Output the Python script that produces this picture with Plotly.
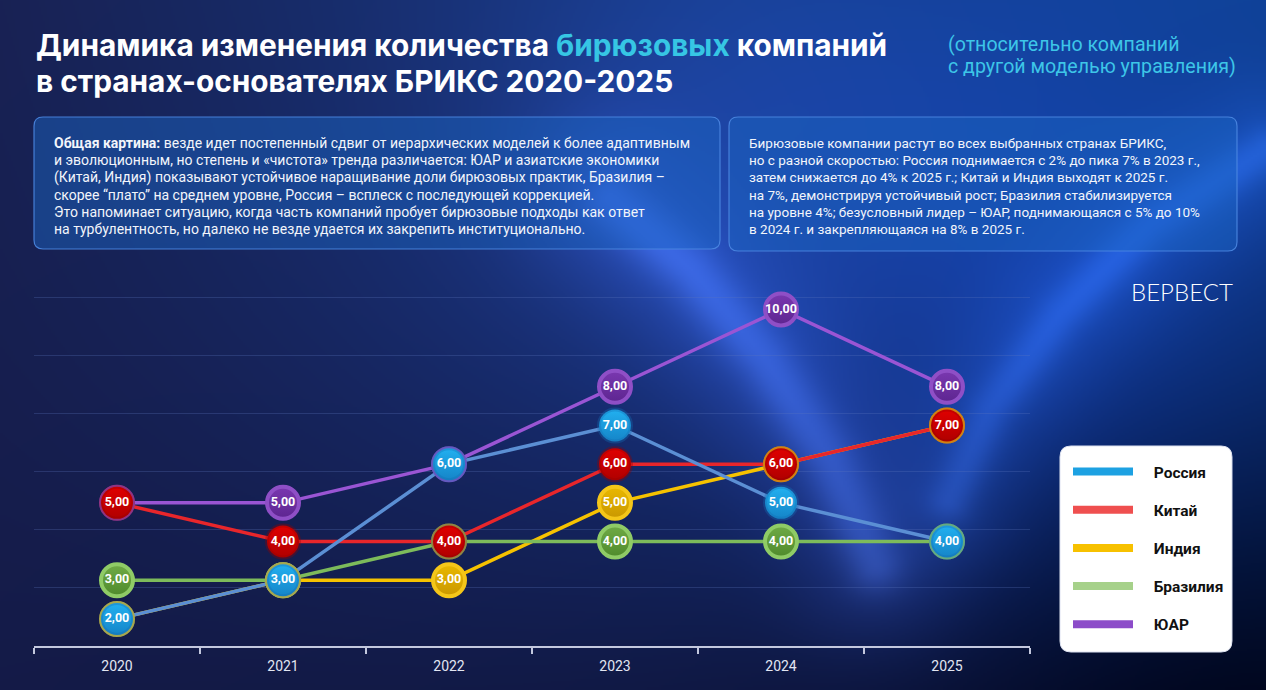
import base64, struct, zlib
import numpy as np
import plotly.graph_objects as go

# ---------------- data ----------------
years = ["2020", "2021", "2022", "2023", "2024", "2025"]
series_names = ["Россия", "Китай", "Индия", "Бразилия", "ЮАР"]
russia = [2, 3, 6, 7, 5, 4]
china = [5, 4, 4, 6, 6, 7]
india = [2, 3, 3, 5, 6, 7]
brazil = [3, 3, 4, 4, 4, 4]
sar = [5, 5, 6, 8, 10, 8]

title_line1 = "Динамика изменения количества <span style='color:#36c6e4'>бирюзовых</span> компаний"
title_line2 = "в странах-основателях БРИКС 2020-2025"
subtitle1 = "(относительно компаний"
subtitle2 = "с другой моделью управления)"
box1_lines = ["<b>Общая картина:</b> везде идет постепенный сдвиг от иерархических моделей к более адаптивным",
              "и эволюционным, но степень и «чистота» тренда различается: ЮАР и азиатские экономики",
              "(Китай, Индия) показывают устойчивое наращивание доли бирюзовых практик, Бразилия –",
              "скорее “плато” на среднем уровне, Россия – всплеск с последующей коррекцией.",
              "Это напоминает ситуацию, когда часть компаний пробует бирюзовые подходы как ответ",
              "на турбулентность, но далеко не везде удается их закрепить институционально."]
box2_lines = ["Бирюзовые компании растут во всех выбранных странах БРИКС,",
              "но с разной скоростью: Россия поднимается с 2% до пика 7% в 2023 г.,",
              "затем снижается до 4% к 2025 г.; Китай и Индия выходят к 2025 г.",
              "на 7%, демонстрируя устойчивый рост; Бразилия стабилизируется",
              "на уровне 4%; безусловный лидер – ЮАР, поднимающаяся с 5% до 10%",
              "в 2024 г. и закрепляющаяся на 8% в 2025 г."]
logo_text = "ВЕРВЕСТ"

W, H = 1266, 690

# ---------------- background image ----------------
def make_bg():
    w, h = 633, 345
    xs = (np.arange(w) + 0.5) * (W / w)
    ys = (np.arange(h) + 0.5) * (H / h)
    X, Y = np.meshgrid(xs, ys)
    u = X / W
    v = Y / H
    TL = np.array([24, 33, 82.0]); TR = np.array([14, 60, 135.0])
    BL = np.array([20, 26, 70.0]); BR = np.array([8, 14, 42.0])
    img = ((1 - u)[..., None] * (1 - v)[..., None] * TL + u[..., None] * (1 - v)[..., None] * TR +
           (1 - u)[..., None] * v[..., None] * BL + u[..., None] * v[..., None] * BR)

    def blob(cx, cy, s, col):
        g = np.exp(-((X - cx) ** 2 + (Y - cy) ** 2) / (2 * s * s))
        return g[..., None] * np.array(col, float)

    def beam(pts, s, col):
        d = np.full(X.shape, 1e9)
        for (x0, y0), (x1, y1) in zip(pts[:-1], pts[1:]):
            dx, dy = x1 - x0, y1 - y0
            t = np.clip(((X - x0) * dx + (Y - y0) * dy) / (dx * dx + dy * dy), 0, 1)
            px, py = x0 + t * dx, y0 + t * dy
            d = np.minimum(d, np.hypot(X - px, Y - py))
        g = np.exp(-(d ** 2) / (2 * s * s))
        return g[..., None] * np.array(col, float)

    img += blob(1050, 280, 220, (4, 18, 55))
    img += blob(620, 300, 320, (5, 10, 25))
    img += blob(700, 130, 160, (6, 12, 26))
    a = [(610, 200), (690, 270), (765, 360), (830, 460), (875, 565)]
    img += beam(a, 60, (12, 17, 36))
    img += beam(a, 20, (20, 27, 45))
    b = [(1266, 150), (1150, 225), (1060, 315), (990, 410), (950, 500)]
    img += beam(b, 50, (8, 16, 32))
    img += beam(b, 16, (12, 20, 35))
    img += blob(1180, 650, 200, (-8, -10, -20))
    arr = np.clip(img, 0, 255).astype(np.uint8)
    raw = b"".join(b"\x00" + arr[i].tobytes() for i in range(h))

    def chunk(t, d):
        return struct.pack(">I", len(d)) + t + d + struct.pack(">I", zlib.crc32(t + d) & 0xffffffff)

    png = (b"\x89PNG\r\n\x1a\n" + chunk(b"IHDR", struct.pack(">IIBBBBB", w, h, 8, 2, 0, 0, 0)) +
           chunk(b"IDAT", zlib.compress(raw, 9)) + chunk(b"IEND", b""))
    return "data:image/png;base64," + base64.b64encode(png).decode()


def P(x, y):
    return f"{x / W:.5f},{1 - y / H:.5f}"


def rrect(x0, y0, x1, y1, r):
    return (f"M {P(x0 + r, y0)} L {P(x1 - r, y0)} Q {P(x1, y0)} {P(x1, y0 + r)} "
            f"L {P(x1, y1 - r)} Q {P(x1, y1)} {P(x1 - r, y1)} L {P(x0 + r, y1)} "
            f"Q {P(x0, y1)} {P(x0, y1 - r)} L {P(x0, y0 + r)} Q {P(x0, y0)} {P(x0 + r, y0)} Z")


fig = go.Figure()

line_cols = {"Россия": "#5b8fd4", "Китай": "#e8262b", "Индия": "#f6c200", "Бразилия": "#7dbb5b", "ЮАР": "#9a55d4"}
legend_cols = {"Россия": "#1da1e2", "Китай": "#ef4f4f", "Индия": "#f7c100", "Бразилия": "#a6d18a", "ЮАР": "#8c4cc9"}
data = {"Россия": russia, "Китай": china, "Индия": india, "Бразилия": brazil, "ЮАР": sar}

for name in ["Индия", "Бразилия", "Китай", "ЮАР", "Россия"]:
    fig.add_trace(go.Scatter(x=years, y=data[name], mode="lines", showlegend=False, hoverinfo="skip",
                             line=dict(color=line_cols[name], width=3.5)))

mk = {
    "Бразилия": ("#6faa45", "#4f8a2c", "#8fcb66"),
    "Индия": ("#e9b800", "#c99700", "#f4c619"),
    "ЮАР": ("#7a38b0", "#5d2590", "#8f4fc6"),
    "Китай": ("#e00000", "#b00000", "rgba(150,0,0,0.35)"),
    "Россия": ("#22b0f0", "#1585c8", "rgba(20,110,180,0.35)"),
}
for name in ["Бразилия", "Индия", "ЮАР", "Китай", "Россия"]:
    fill, grad, border = mk[name]
    fig.add_trace(go.Scatter(
        x=years, y=data[name], mode="markers+text", showlegend=False, cliponaxis=False,
        marker=dict(size=32, color=fill, gradient=dict(type="vertical", color=grad),
                    line=dict(color=border, width=4)),
        texttemplate="%{y:.2f}", textposition="middle center",
        textfont=dict(family="Roboto", size=12.5, color="white", weight="bold"),
        hoverinfo="skip"))

for name in series_names:
    fig.add_trace(go.Scatter(x=[None], y=[None], mode="lines", name="\u2002\u2002" + name, legendgroup=name,
                             line=dict(color=legend_cols[name], width=8)))

shapes = [
    dict(type="path", path=rrect(34, 117, 720, 249, 9), xref="paper", yref="paper", layer="below",
         fillcolor="rgba(28,100,195,0.48)", line=dict(color="rgba(75,135,225,0.9)", width=1.2)),
    dict(type="path", path=rrect(729, 117, 1237, 251, 9), xref="paper", yref="paper", layer="below",
         fillcolor="rgba(28,100,195,0.48)", line=dict(color="rgba(75,135,225,0.9)", width=1.2)),
    dict(type="path", path=rrect(1060, 446, 1232, 652, 11), xref="paper", yref="paper", layer="below",
         fillcolor="white", line=dict(color="rgba(220,225,240,1)", width=1)),
]

annotations = [
    dict(text="<b>" + title_line1 + "</b>", x=34 / W, y=1 - 45 / H, xanchor="left", yanchor="middle",
         showarrow=False, xref="paper", yref="paper",
         font=dict(family="Inter", size=29.8, color="white")),
    dict(text="<b>" + title_line2 + "</b>", x=34 / W, y=1 - 81 / H, xanchor="left", yanchor="middle",
         showarrow=False, xref="paper", yref="paper",
         font=dict(family="Inter", size=29.8, color="white")),
    dict(text=subtitle1, x=946 / W, y=1 - 44 / H, xanchor="left", yanchor="middle", showarrow=False,
         xref="paper", yref="paper", font=dict(family="Roboto", size=19.6, color="#3dc6e8")),
    dict(text=subtitle2, x=946 / W, y=1 - 66 / H, xanchor="left", yanchor="middle", showarrow=False,
         xref="paper", yref="paper", font=dict(family="Roboto", size=19.6, color="#3dc6e8")),
    dict(text=logo_text, x=1235 / W, y=1 - 292 / H, xanchor="right", yanchor="middle", showarrow=False,
         xref="paper", yref="paper", font=dict(family="Lato", size=24, color="white", weight=300)),
]
line_y = [143, 160.2, 177.4, 194.6, 211.8, 229]
for ln, yy in zip(box1_lines, line_y):
    annotations.append(dict(text=ln, x=52 / W, y=1 - yy / H, xanchor="left", yanchor="middle",
                            showarrow=False, xref="paper", yref="paper",
                            font=dict(family="Roboto", size=14, color="#f2f5fb")))
for ln, yy in zip(box2_lines, line_y):
    annotations.append(dict(text=ln, x=747 / W, y=1 - yy / H, xanchor="left", yanchor="middle",
                            showarrow=False, xref="paper", yref="paper",
                            font=dict(family="Roboto", size=13.5, color="#f2f5fb")))

fig.update_layout(
    width=W, height=H, margin=dict(l=0, r=0, t=0, b=0),
    paper_bgcolor="#141c4c", plot_bgcolor="rgba(0,0,0,0)",
    separators=", ",
    images=[dict(source=make_bg(), xref="paper", yref="paper", x=0, y=1, sizex=1, sizey=1,
                 sizing="stretch", layer="below", xanchor="left", yanchor="top")],
    shapes=shapes, annotations=annotations,
    xaxis=dict(domain=[34 / W, 1030 / W], type="category", range=[-0.5, 5.5], tickson="boundaries",
               showgrid=False, zeroline=False, showline=True, linecolor="#c3c8de", linewidth=1.5,
               ticks="outside", ticklen=6, tickwidth=1.5, tickcolor="#c3c8de", ticklabelstandoff=6,
               tickfont=dict(family="Roboto", size=14, color="#e2e6f2"), fixedrange=True),
    yaxis=dict(domain=[1 - 646 / H, 1 - 292 / H], range=[1.3, 10.45], tick0=1.3, dtick=1.5,
               showticklabels=False, showgrid=True, gridcolor="rgba(95,120,190,0.28)", gridwidth=1,
               zeroline=False, showline=False, ticks="", fixedrange=True),
    legend=dict(x=1068 / W, y=1 - 455 / H, xanchor="left", yanchor="top", bgcolor="rgba(0,0,0,0)",
                borderwidth=0, itemwidth=60, tracegroupgap=15, traceorder="grouped",
                font=dict(family="Roboto", size=15.5, color="#111111", weight="bold")),
    showlegend=True,
)

fig.write_html("out.html", config={"displayModeBar": False},
               post_script="document.body.style.margin='0';document.body.style.overflow='hidden';")
